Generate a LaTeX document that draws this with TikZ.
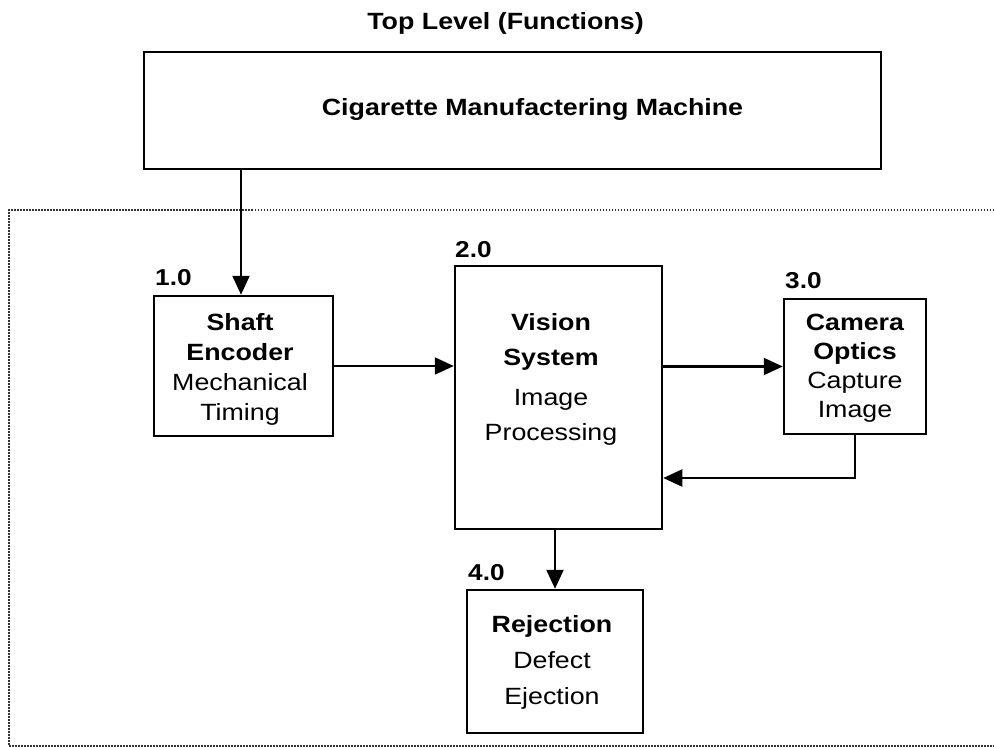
\documentclass[tikz,border=0pt]{standalone}
\usepackage{fontspec}
\setmainfont[FakeStretch=1.14]{Liberation Sans}
\usetikzlibrary{arrows.meta}
\begin{document}
\begin{tikzpicture}[x=1pt,y=-1pt,
  box/.style={draw, line width=2.5pt, inner sep=0pt},
  conn/.style={line width=2.2pt, -{Triangle[length=19pt,width=17pt]}},
  boxtext/.style={anchor=north, align=center, inner sep=0pt},
  numlbl/.style={anchor=base west, inner sep=0pt, font=\bfseries\fontsize{23}{27}\selectfont},
  frame/.style={line width=1.2pt, dash pattern=on 1.5pt off 1.5pt, black!80}]
\useasboundingbox (0,0) rectangle (994,747);

% dotted frame (open to the right)
\draw[frame] (994,210) -- (9,210) -- (9,746) -- (994,746);

% title
\node[anchor=base, inner sep=0pt, font=\bfseries\fontsize{23.5}{28}\selectfont] (title) at (505.5,29.5) {Top Level (Functions)};

% boxes
\node[box, minimum width=737pt, minimum height=117pt] (machine) at (512.5,110.5) {};
\node[box, minimum width=179pt, minimum height=140pt] (shaft) at (243.5,366) {};
\node[box, minimum width=207pt, minimum height=263pt] (vision) at (558.5,397.5) {};
\node[box, minimum width=142pt, minimum height=135pt] (camera) at (855,366.5) {};
\node[box, minimum width=176pt, minimum height=143pt] (reject) at (555,661.5) {};

% box texts
\node[anchor=base, inner sep=0pt, font=\bfseries\fontsize{23.5}{28}\selectfont] (machinetext) at (532.5,115) {Cigarette Manufactering Machine};
\node[boxtext, font=\fontsize{23.5}{30}\selectfont] (shafttext) at (240,313)
  {\textbf{Shaft}\\\textbf{Encoder}\\Mechanical\\Timing};
\node[boxtext, font=\fontsize{23.5}{35}\selectfont] (visiontext) at (551,313)
  {\textbf{Vision}\\\textbf{System}\\[5pt]Image\\Processing};
\node[boxtext, font=\fontsize{23.5}{29}\selectfont] (cameratext) at (855,314)
  {\textbf{Camera}\\\textbf{Optics}\\Capture\\Image};
\node[boxtext, font=\fontsize{23.5}{36}\selectfont] (rejecttext) at (552,615)
  {\textbf{Rejection}\\Defect\\Ejection};

% number labels
\node[numlbl] (n1) at (155,285) {1.0};
\node[numlbl] (n2) at (455,257) {2.0};
\node[numlbl] (n3) at (785,288) {3.0};
\node[numlbl] (n4) at (468,580) {4.0};

% connectors
\coordinate (downx) at (241,0);
\coordinate (fby) at (0,478);
\draw[conn] (machine.south -| downx) -- (shaft.north -| downx);
\draw[conn] (shaft.east) -- (shaft.east -| vision.west);
\draw[conn] (camera.west -| vision.east) -- (camera.west);
\draw[conn] (camera.south) |- (vision.east |- fby);
\draw[conn] (vision.south -| reject.north) -- (reject.north);
\end{tikzpicture}
\end{document}
